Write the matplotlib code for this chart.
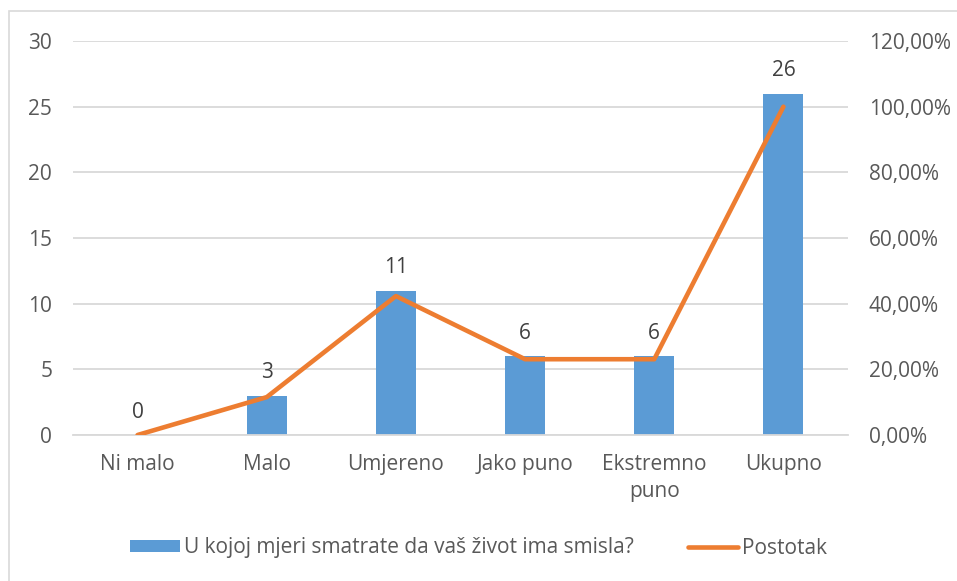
import matplotlib.pyplot as plt
from matplotlib.patches import Rectangle
from matplotlib.ticker import FuncFormatter

categories = ["Ni malo", "Malo", "Umjereno", "Jako puno", "Ekstremno\npuno", "Ukupno"]
counts = [0, 3, 11, 6, 6, 26]
percent = [0.0, 11.54, 42.31, 23.08, 23.08, 100.0]

bar_label = "U kojoj mjeri smatrate da vaš život ima smisla?"
line_label = "Postotak"

plt.rcParams["font.family"] = ["Open Sans", "DejaVu Sans"]
text_col = "#595959"
grid_col = "#D9D9D9"
fs = 15

fig = plt.figure(figsize=(9.57, 5.81), dpi=100)
ax = fig.add_axes([73 / 957, 1 - 435 / 581, (848 - 73) / 957, (435 - 41) / 581])
ax2 = ax.twinx()

x = list(range(len(categories)))
bars = ax.bar(x, counts, width=0.31, color="#5B9BD5", label=bar_label, zorder=2)
ax2.plot(x, percent, color="#ED7D31", linewidth=3.3, solid_capstyle="round", label=line_label, zorder=3)

for xi, c in zip(x, counts):
    ax.text(xi, c + 0.95, str(c), ha="center", va="bottom", fontsize=fs, color="#404040")

ax.set_xlim(-0.5, len(categories) - 0.5)
ax.set_ylim(0, 30)
ax.set_yticks(range(0, 31, 5))
ax2.set_ylim(0, 120)
ax2.set_yticks(range(0, 121, 20))
ax2.yaxis.set_major_formatter(FuncFormatter(lambda v, p: f"{v:.2f}%".replace(".", ",")))

ax.set_xticks(x)
ax.set_xticklabels(categories, linespacing=1.35)
ax.grid(axis="y", color=grid_col, linewidth=1.3, zorder=0)
ax.set_axisbelow(True)

for a in (ax, ax2):
    for s in a.spines.values():
        s.set_visible(False)
    a.tick_params(length=0, labelsize=fs, colors=text_col)
ax.tick_params(axis="y", pad=15)
ax2.tick_params(axis="y", pad=15)
ax.tick_params(axis="x", pad=14)
ax.spines["bottom"].set_visible(True)
ax.spines["bottom"].set_color(grid_col)
ax.spines["bottom"].set_linewidth(1.3)

fig.patches.append(Rectangle((9 / 957, -0.05), 1.2, 1 - 11 / 581 + 0.05, transform=fig.transFigure,
                             fill=False, edgecolor="#D9D9D9", linewidth=1.2))

h1, l1 = ax.get_legend_handles_labels()
h2, l2 = ax2.get_legend_handles_labels()
leg = fig.legend(h1 + h2, l1 + l2, loc="center", bbox_to_anchor=(0.5, 1 - 548 / 581), ncol=2,
                 frameon=False, fontsize=fs, handlelength=2.4, handleheight=0.55,
                 handletextpad=0.2, columnspacing=2.6)
for t in leg.get_texts():
    t.set_color(text_col)

fig.savefig("out.png", dpi=100)
